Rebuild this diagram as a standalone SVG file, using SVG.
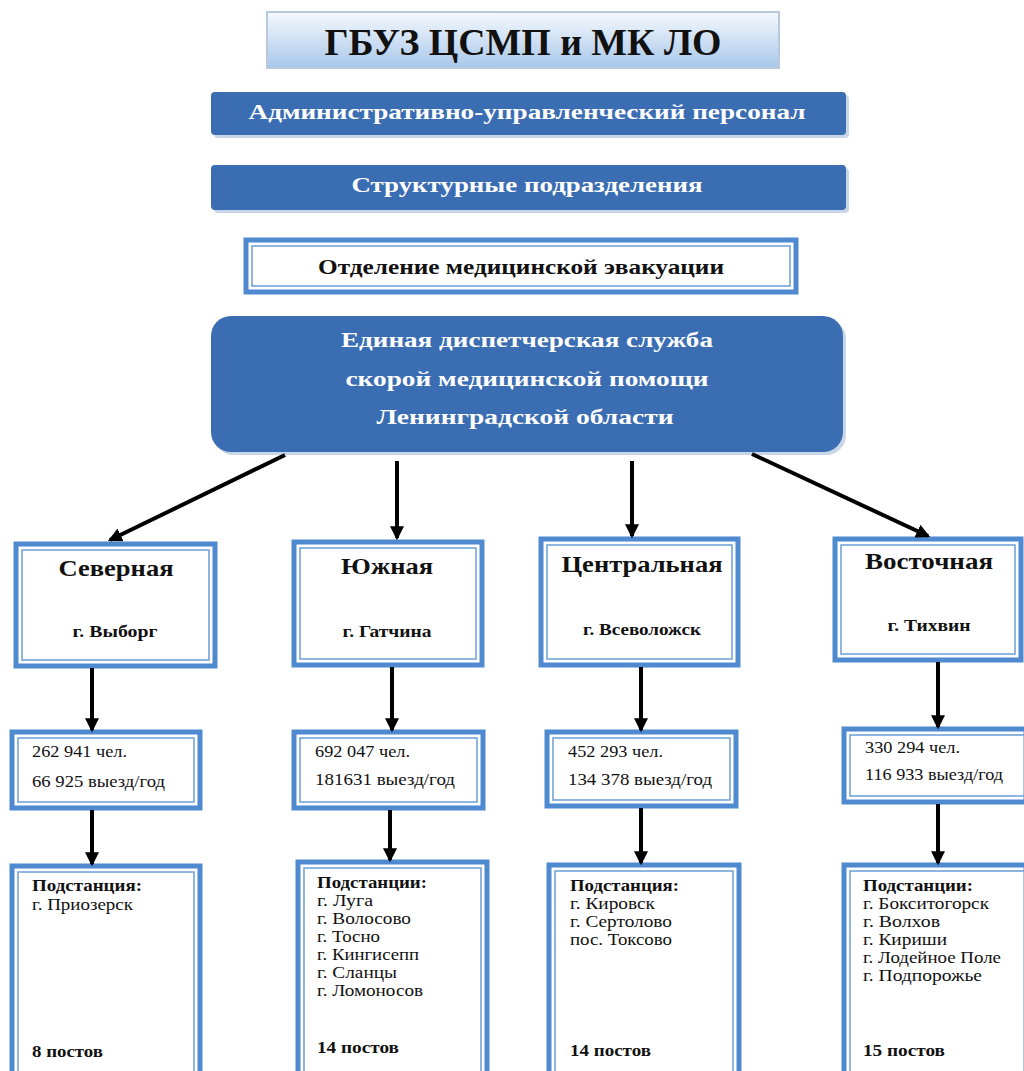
<svg xmlns="http://www.w3.org/2000/svg" width="1024" height="1071" viewBox="0 0 1024 1071">
<defs>
<linearGradient id="tg" x1="0" y1="0" x2="0" y2="1">
<stop offset="0" stop-color="#f6f9fd"/>
<stop offset="1" stop-color="#a8c7ea"/>
</linearGradient>
<marker id="ah" viewBox="0 0 12 12" refX="10" refY="6" markerWidth="14" markerHeight="14" markerUnits="userSpaceOnUse" orient="auto">
<path d="M0,0 L12,6 L0,12 Z" fill="#000"/>
</marker>
<style>
text{font-family:"Liberation Serif","Times New Roman",serif;}
.wt{fill:#fff;font-weight:bold;font-size:22px;text-anchor:middle;}
.hd{font-weight:bold;font-size:24px;text-anchor:middle;fill:#111;}
.city{font-weight:bold;font-size:17px;text-anchor:middle;fill:#111;}
.st{font-size:17px;fill:#111;}
.b{font-weight:bold;}
.ob{fill:#fff;stroke:#4f8ad0;stroke-width:5;}
.ib{fill:none;stroke:#6a9ed8;stroke-width:1.5;}
.dk{fill:#3b6db2;}
.sh{fill:#c9d6e8;}
.conn line{stroke:#000;stroke-width:4;marker-end:url(#ah);}
</style>
</defs>
<rect width="1024" height="1071" fill="#fff"/>

<g id="title">
<rect x="267" y="12" width="512" height="56" fill="url(#tg)" stroke="#b9c9dd" stroke-width="2"/>
<text x="523" y="55" font-size="38" font-weight="bold" text-anchor="middle" fill="#111" textLength="397" lengthAdjust="spacingAndGlyphs">ГБУЗ ЦСМП и МК ЛО</text>
</g>

<g id="admin">
<rect class="sh" x="214" y="95" width="635" height="43" rx="4"/>
<rect class="dk" x="211" y="92" width="635" height="43" rx="4"/>
<text class="wt" x="527" y="119" textLength="557" lengthAdjust="spacingAndGlyphs">Административно-управленческий персонал</text>
</g>

<g id="struct">
<rect class="sh" x="214" y="168" width="635" height="45" rx="4"/>
<rect class="dk" x="211" y="165" width="635" height="45" rx="4"/>
<text class="wt" x="527" y="192" textLength="351" lengthAdjust="spacingAndGlyphs">Структурные подразделения</text>
</g>

<g id="evac">
<rect class="ob" x="246" y="240" width="550" height="52"/>
<rect class="ib" x="252" y="246" width="538" height="40"/>
<text x="521" y="274" font-size="21" font-weight="bold" text-anchor="middle" fill="#111" textLength="406" lengthAdjust="spacingAndGlyphs">Отделение медицинской эвакуации</text>
</g>

<g id="eds">
<rect class="sh" x="214" y="319" width="632" height="136" rx="20"/>
<rect class="dk" x="211" y="316" width="632" height="136" rx="20"/>
<text class="wt" x="527" y="347" textLength="372" lengthAdjust="spacingAndGlyphs">Единая диспетчерская служба</text>
<text class="wt" x="527" y="386" textLength="363" lengthAdjust="spacingAndGlyphs">скорой медицинской помощи</text>
<text class="wt" x="525" y="424" textLength="297" lengthAdjust="spacingAndGlyphs">Ленинградской области</text>
</g>

<g id="north">
<rect class="ob" x="16" y="544" width="199" height="122"/>
<rect class="ib" x="22" y="550" width="187" height="110"/>
<text class="hd" x="116" y="576" textLength="115" lengthAdjust="spacingAndGlyphs">Северная</text>
<text class="city" x="115" y="637" textLength="85" lengthAdjust="spacingAndGlyphs">г. Выборг</text>
</g>
<g id="south">
<rect class="ob" x="294" y="542" width="188" height="123"/>
<rect class="ib" x="300" y="548" width="176" height="111"/>
<text class="hd" x="387" y="574" textLength="92" lengthAdjust="spacingAndGlyphs">Южная</text>
<text class="city" x="387" y="637" textLength="89" lengthAdjust="spacingAndGlyphs">г. Гатчина</text>
</g>
<g id="central">
<rect class="ob" x="541" y="539" width="197" height="126"/>
<rect class="ib" x="547" y="545" width="185" height="114"/>
<text class="hd" x="642" y="572" textLength="161" lengthAdjust="spacingAndGlyphs">Центральная</text>
<text class="city" x="642" y="635" textLength="118" lengthAdjust="spacingAndGlyphs">г. Всеволожск</text>
</g>
<g id="east">
<rect class="ob" x="835" y="539" width="186" height="121"/>
<rect class="ib" x="841" y="545" width="174" height="109"/>
<text class="hd" x="929" y="569" textLength="128" lengthAdjust="spacingAndGlyphs">Восточная</text>
<text class="city" x="929" y="631" textLength="83" lengthAdjust="spacingAndGlyphs">г. Тихвин</text>
</g>

<g id="stat1">
<rect class="ob" x="12" y="732" width="188" height="76"/>
<rect class="ib" x="18" y="738" width="176" height="64"/>
<text class="st" x="32" y="757" textLength="95" lengthAdjust="spacingAndGlyphs">262 941 чел.</text>
<text class="st" x="32" y="787" textLength="133" lengthAdjust="spacingAndGlyphs">66 925 выезд/год</text>
</g>
<g id="stat2">
<rect class="ob" x="294" y="732" width="189" height="76"/>
<rect class="ib" x="300" y="738" width="177" height="64"/>
<text class="st" x="315" y="757" textLength="95" lengthAdjust="spacingAndGlyphs">692 047 чел.</text>
<text class="st" x="315" y="785" textLength="140" lengthAdjust="spacingAndGlyphs">181631 выезд/год</text>
</g>
<g id="stat3">
<rect class="ob" x="547" y="732" width="189" height="74"/>
<rect class="ib" x="553" y="738" width="177" height="62"/>
<text class="st" x="568" y="757" textLength="95" lengthAdjust="spacingAndGlyphs">452 293 чел.</text>
<text class="st" x="568" y="785" textLength="144" lengthAdjust="spacingAndGlyphs">134 378 выезд/год</text>
</g>
<g id="stat4">
<rect class="ob" x="844" y="729" width="182" height="73"/>
<rect class="ib" x="850" y="735" width="176" height="61"/>
<text class="st" x="865" y="753" textLength="95" lengthAdjust="spacingAndGlyphs">330 294 чел.</text>
<text class="st" x="865" y="780" textLength="138" lengthAdjust="spacingAndGlyphs">116 933  выезд/год</text>
</g>

<g id="sub1">
<rect class="ob" x="12" y="866" width="188" height="210"/>
<rect class="ib" x="18" y="872" width="176" height="210"/>
<text class="st b" x="32" y="891" textLength="110" lengthAdjust="spacingAndGlyphs">Подстанция:</text>
<text class="st" x="32" y="910" textLength="101" lengthAdjust="spacingAndGlyphs">г. Приозерск</text>
<text class="st b" x="32" y="1057" textLength="71" lengthAdjust="spacingAndGlyphs">8 постов</text>
</g>
<g id="sub2">
<rect class="ob" x="298" y="862" width="189" height="214"/>
<rect class="ib" x="304" y="868" width="177" height="214"/>
<text class="st b" x="317" y="888" textLength="110" lengthAdjust="spacingAndGlyphs">Подстанции:</text>
<text class="st" x="317" y="906" textLength="56" lengthAdjust="spacingAndGlyphs">г. Луга</text>
<text class="st" x="317" y="924" textLength="94" lengthAdjust="spacingAndGlyphs">г. Волосово</text>
<text class="st" x="317" y="942" textLength="63" lengthAdjust="spacingAndGlyphs">г. Тосно</text>
<text class="st" x="317" y="960" textLength="102" lengthAdjust="spacingAndGlyphs">г. Кингисепп</text>
<text class="st" x="317" y="978" textLength="80" lengthAdjust="spacingAndGlyphs">г. Сланцы</text>
<text class="st" x="317" y="996" textLength="106" lengthAdjust="spacingAndGlyphs">г. Ломоносов</text>
<text class="st b" x="317" y="1053" textLength="82" lengthAdjust="spacingAndGlyphs">14 постов</text>
</g>
<g id="sub3">
<rect class="ob" x="549" y="865" width="190" height="211"/>
<rect class="ib" x="555" y="871" width="178" height="211"/>
<text class="st b" x="570" y="891" textLength="109" lengthAdjust="spacingAndGlyphs">Подстанция:</text>
<text class="st" x="570" y="909" textLength="85" lengthAdjust="spacingAndGlyphs">г. Кировск</text>
<text class="st" x="570" y="927" textLength="102" lengthAdjust="spacingAndGlyphs">г. Сертолово</text>
<text class="st" x="570" y="945" textLength="102" lengthAdjust="spacingAndGlyphs">пос. Токсово</text>
<text class="st b" x="570" y="1056" textLength="81" lengthAdjust="spacingAndGlyphs">14 постов</text>
</g>
<g id="sub4">
<rect class="ob" x="844" y="865" width="182" height="211"/>
<rect class="ib" x="850" y="871" width="176" height="211"/>
<text class="st b" x="863" y="891" textLength="110" lengthAdjust="spacingAndGlyphs">Подстанции:</text>
<text class="st" x="863" y="909" textLength="126" lengthAdjust="spacingAndGlyphs">г. Бокситогорск</text>
<text class="st" x="863" y="927" textLength="77" lengthAdjust="spacingAndGlyphs">г. Волхов</text>
<text class="st" x="863" y="945" textLength="84" lengthAdjust="spacingAndGlyphs">г. Кириши</text>
<text class="st" x="863" y="963" textLength="138" lengthAdjust="spacingAndGlyphs">г. Лодейное Поле</text>
<text class="st" x="863" y="981" textLength="119" lengthAdjust="spacingAndGlyphs">г. Подпорожье</text>
<text class="st b" x="863" y="1056" textLength="82" lengthAdjust="spacingAndGlyphs">15 постов</text>
</g>

<g id="connectors" class="conn">
<line x1="285" y1="455" x2="110" y2="540"/>
<line x1="397" y1="461" x2="397" y2="538"/>
<line x1="632" y1="461" x2="632" y2="536"/>
<line x1="752" y1="454" x2="928" y2="536"/>
<line x1="92" y1="668" x2="92" y2="730"/>
<line x1="392" y1="667" x2="392" y2="730"/>
<line x1="641" y1="667" x2="641" y2="730"/>
<line x1="938" y1="662" x2="938" y2="727"/>
<line x1="92" y1="810" x2="92" y2="864"/>
<line x1="390" y1="810" x2="390" y2="860"/>
<line x1="641" y1="808" x2="641" y2="863"/>
<line x1="938" y1="804" x2="938" y2="863"/>
</g>
</svg>
